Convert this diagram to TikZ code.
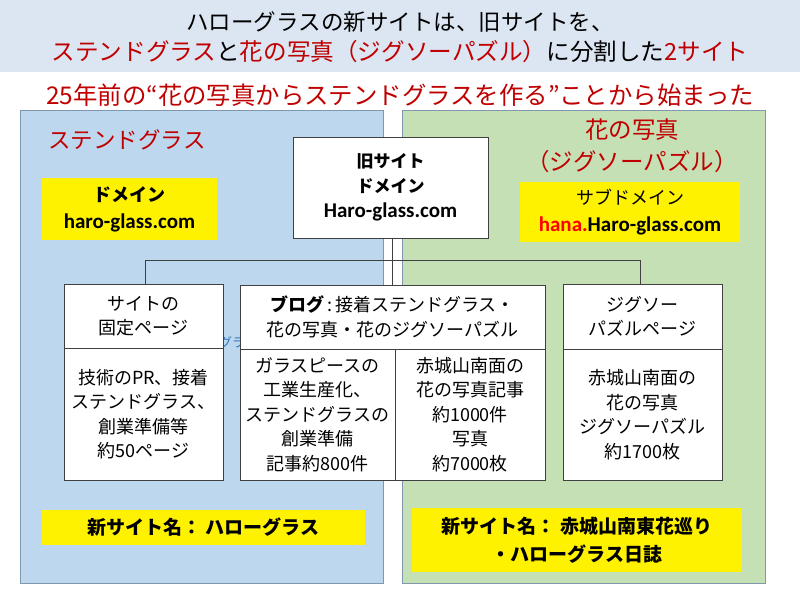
\documentclass[tikz,border=0pt]{standalone}
\usepackage{fontspec}
\setmainfont{Noto Sans CJK JP}
\newfontfamily\lat{Carlito}
\definecolor{bandblue}{HTML}{DCE6F2}
\definecolor{panelblue}{HTML}{BDD7EE}
\definecolor{panelgreen}{HTML}{C5E0B4}
\definecolor{panelline}{HTML}{7F98AE}
\definecolor{darkred}{HTML}{C00000}
\definecolor{brightred}{HTML}{FF0000}
\definecolor{boxline}{HTML}{404040}
\definecolor{strayblue}{HTML}{2E75B6}
\tikzset{
  panel/.style={draw=panelline, line width=0.8pt, inner sep=0pt},
  ybox/.style={fill=yellow, inner sep=0pt, align=center, font=\bfseries\fontsize{18}{27}\selectfont},
  wbox/.style={draw=boxline, fill=white, line width=0.8pt, inner sep=0pt, align=center, font=\fontsize{18}{24.5}\selectfont},
  conn/.style={draw=boxline, line width=0.8pt},
  redtitle/.style={text=darkred, align=center, inner sep=0pt},
}
\begin{document}
\begin{tikzpicture}[x=1pt,y=-1pt]
\useasboundingbox (0,0) rectangle (800,600);
\fill[white] (0,0) rectangle (800,600);
\fill[bandblue] (0,0) rectangle (800,72);
% titles
\node[inner sep=0pt, font=\fontsize{22.5}{27}\selectfont] (t1) at (400,22) {ハローグラスの新サイトは、旧サイトを、};
\node[inner sep=0pt, font=\fontsize{23.6}{27}\selectfont] (t2) at (400,52) {\textcolor{darkred}{ステンドグラス}と\textcolor{darkred}{花の写真（ジグソーパズル）}に分割した\textcolor{darkred}{2サイト}};
\node[inner sep=0pt, text=darkred, font=\fontsize{24.4}{27}\selectfont] (t3) at (400,95) {25年前の“花の写真からステンドグラスを作る”ことから始まった};
% panels
\node[panel, fill=panelblue, minimum width=363pt, minimum height=473pt] (lp) at (201.5,346.5) {};
\node[panel, fill=panelgreen, minimum width=363pt, minimum height=473pt] (rp) at (583.5,346.5) {};
\node[redtitle, font=\fontsize{22.5}{27}\selectfont] (lt) at (127,140) {ステンドグラス};
\node[redtitle, font=\fontsize{23.5}{32}\selectfont] (rt) at (632,146) {花の写真\\（ジグソーパズル）};
% stray fragment
\node[inner sep=0pt, text=strayblue, font=\fontsize{13}{14}\selectfont] (stray) at (232,342) {グラ};
% yellow boxes
\node[ybox, minimum width=175pt, minimum height=62pt] (y1) at (129.5,209) {ドメイン\\{\lat\fontsize{21}{27}\selectfont haro-glass.com}};
\node[ybox, minimum width=220pt, minimum height=60pt] (y2) at (630,212) {{\mdseries サブドメイン}\\{\lat\fontsize{21}{27}\selectfont\textcolor{brightred}{hana.}Haro-glass.com}};
\node[ybox, minimum width=323pt, minimum height=35pt, font=\bfseries\fontsize{19}{27}\selectfont] (y3) at (203.5,527.5) {新サイト名：\ ハローグラス};
\node[ybox, minimum width=330pt, minimum height=64pt, font=\bfseries\fontsize{19}{28}\selectfont] (y4) at (577,540) {新サイト名：\ 赤城山南東花巡り\\・ハローグラス日誌};
% old site
\node[wbox, minimum width=195pt, minimum height=101pt, font=\bfseries\fontsize{17}{25}\selectfont] (old) at (390.5,187.5) {旧サイト\\ドメイン\\{\lat\fontsize{21}{25}\selectfont Haro-glass.com}};
% connectors
\coordinate (j) at (392,260);
\coordinate (jl) at (145,260);
\coordinate (jr) at (640,260);
% content boxes
\node[wbox, minimum width=159pt, minimum height=64pt] (fixhead) at (143.5,316) {サイトの\\固定ページ};
\node[wbox, minimum width=159pt, minimum height=132pt] (fixbody) at (143.5,414) {技術のPR、接着\\ステンドグラス、\\創業準備等\\約50ページ};
\node[wbox, minimum width=305pt, minimum height=64pt] (bloghead) at (392.5,317) {\textbf{ブログ}\,:\,接着ステンドグラス・\\花の写真・花のジグソーパズル};
\node[wbox, minimum width=155pt, minimum height=131pt] (blogl) at (317.5,414.5) {ガラスピースの\\工業生産化、\\ステンドグラスの\\創業準備\\記事約800件};
\node[wbox, minimum width=150pt, minimum height=131pt] (blogr) at (470,414.5) {赤城山南面の\\花の写真記事\\約1000件\\写真\\約7000枚};
\node[wbox, minimum width=159pt, minimum height=65pt] (jighead) at (642.5,316.5) {ジグソー\\パズルページ};
\node[wbox, minimum width=159pt, minimum height=131pt] (jigbody) at (642.5,414.5) {赤城山南面の\\花の写真\\ジグソーパズル\\約1700枚};
\draw[conn] (old.south -| j) -- (bloghead.north -| j);
\draw[conn] (fixhead.north -| jl) -- (jl) -- (jr) -- (jighead.north -| jr);
\end{tikzpicture}
\end{document}
